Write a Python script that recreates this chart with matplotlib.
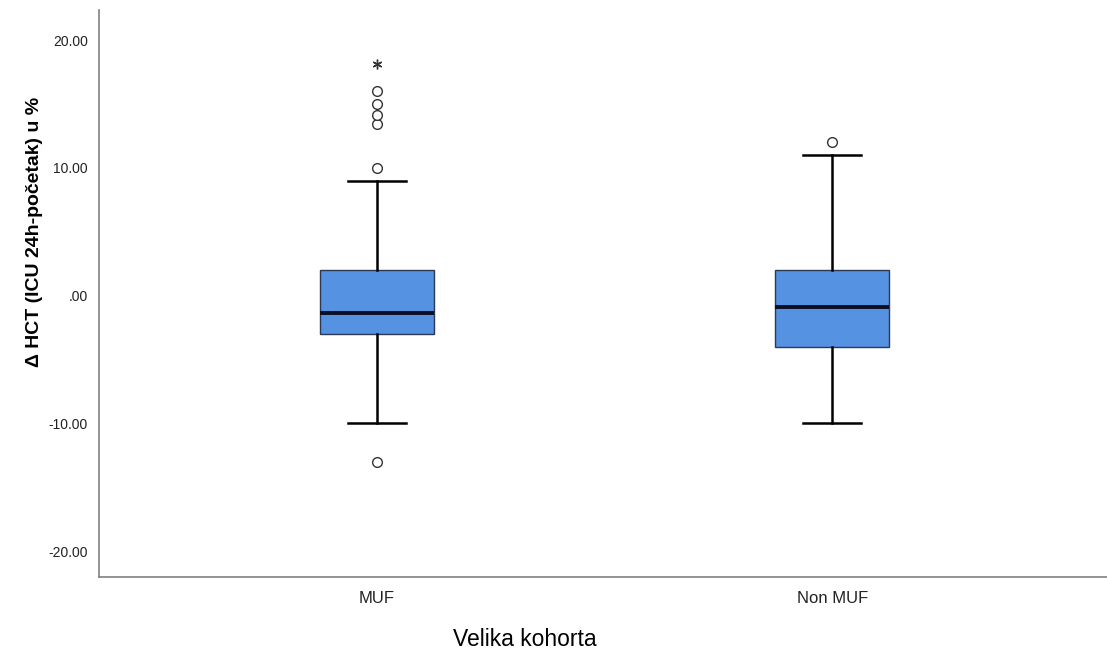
import matplotlib.pyplot as plt
import numpy as np

plt.rcParams['font.family'] = ['Liberation Sans', 'DejaVu Sans']

# data
groups = ['MUF', 'Non MUF']
q1 = [-3.0, -4.0]
median = [-1.4, -0.9]
q3 = [2.0, 2.0]
whisker_low = [-10.0, -10.0]
whisker_high = [9.0, 11.0]
outliers = [[10.0, 13.4, 14.1, 15.0, 16.0, -13.0], [12.0]]
extremes = [[18.1], []]
yticks = [-20, -10, 0, 10, 20]
ytick_labels = ['-20.00', '-10.00', '.00', '10.00', '20.00']

stats = []
for i, g in enumerate(groups):
    stats.append(dict(label=g, q1=q1[i], med=median[i], q3=q3[i],
                      whislo=whisker_low[i], whishi=whisker_high[i],
                      fliers=outliers[i]))

fig = plt.figure(figsize=(11.07, 6.6), dpi=100)
ax = fig.add_axes([99 / 1107, 1 - 577 / 660, 1008 / 1107, 567 / 660])

pos = np.arange(len(groups))
ax.bxp(stats, positions=pos, widths=0.25, patch_artist=True,
       boxprops=dict(facecolor='#5592e2', edgecolor='#2b3a52', linewidth=1.0),
       medianprops=dict(color='#0a0f22', linewidth=2.8),
       whiskerprops=dict(color='black', linewidth=1.8),
       capprops=dict(color='black', linewidth=1.8),
       capwidths=0.128,
       flierprops=dict(marker='o', markersize=7, markerfacecolor='white',
                       markeredgecolor='#333333', markeredgewidth=1.0))

# extreme values drawn as asterisks
for i, ex in enumerate(extremes):
    if ex:
        ax.plot([pos[i]] * len(ex), ex, linestyle='none', marker=(6, 2, 0),
                markersize=7, color='#333333', markeredgewidth=1.0)

ax.set_xlim(-0.611, 1.604)
ax.set_ylim(-22.03, 22.35)
ax.set_yticks(yticks)
ax.set_yticklabels(ytick_labels, fontsize=10, color='#222222')
ax.set_xticks(pos)
ax.set_xticklabels(groups, fontsize=12, color='#222222')
ax.tick_params(axis='both', length=0)
ax.tick_params(axis='y', pad=8)
ax.tick_params(axis='x', pad=10)

for s in ['top', 'right']:
    ax.spines[s].set_visible(False)
for s in ['left', 'bottom']:
    ax.spines[s].set_color('#808080')
    ax.spines[s].set_linewidth(1.2)

fig.text(35 / 1107, 1 - 232 / 660, 'Δ HCT (ICU 24h-početak) u %', rotation=90,
         ha='center', va='center', fontsize=14, fontweight='bold')
fig.text(525 / 1107, 1 - 640 / 660, 'Velika kohorta', ha='center', va='center',
         fontsize=16.5)

fig.savefig('out.png', dpi=100)
